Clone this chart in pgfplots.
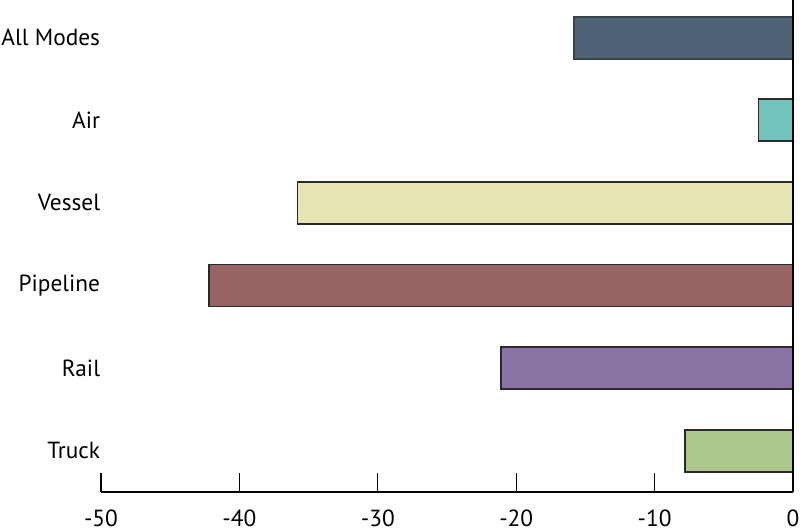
\documentclass[border=0pt]{standalone}
\usepackage{pgfplots}
\pgfplotsset{compat=1.18}
\usepackage{fontspec}
\setmainfont{PT Sans}

\definecolor{cAll}{HTML}{4E6375}
\definecolor{cAir}{HTML}{72C2BD}
\definecolor{cVessel}{HTML}{E6E4B5}
\definecolor{cPipe}{HTML}{966464}
\definecolor{cRail}{HTML}{8A74A6}
\definecolor{cTruck}{HTML}{AEC78F}
\definecolor{edge}{HTML}{2A2A2A}

\begin{document}
\begin{tikzpicture}
\path[use as bounding box, clip] (0,0) rectangle (600pt,399pt);
\begin{axis}[
    at={(75.75pt,30pt)}, anchor=south west,
    scale only axis,
    width=519pt, height=371.7pt,
    xbar, bar width=0.51, bar shift=0pt,
    xmin=-50, xmax=0,
    ymin=-0.5, ymax=5.5,
    axis x line=bottom, axis y line=left,
    x axis line style={-, line width=1.9pt},
    y axis line style={draw=none},
    xtick={-50,-40,-30,-20,-10,0},
    xticklabels={-50,-40,-30,-20,-10,0},
    xtick align=inside,
    major x tick style={line width=0.8pt, black},
    major tick length=14pt,
    ytick={0,1,2,3,4,5},
    yticklabels={Truck,Rail,Pipeline,Vessel,Air,All Modes},
    major y tick style={draw=none},
    tick label style={font=\fontsize{17.5}{20}\selectfont},
    yticklabel style={inner sep=0pt, xshift=6.5pt},
    xticklabel style={yshift=-10pt},
    clip=false,
]
\addplot[fill=cTruck, draw=edge, line width=1.3pt] coordinates {(-7.8,0)};
\addplot[fill=cRail, draw=edge, line width=1.3pt] coordinates {(-21.1,1)};
\addplot[fill=cPipe, draw=edge, line width=1.3pt] coordinates {(-42.2,2)};
\addplot[fill=cVessel, draw=edge, line width=1.3pt] coordinates {(-35.8,3)};
\addplot[fill=cAir, draw=edge, line width=1.3pt] coordinates {(-2.5,4)};
\addplot[fill=cAll, draw=cAll!70!black, line width=1.3pt] coordinates {(-15.8,5)};
\draw[black, line width=2.2pt] (axis cs:0,-0.5) -- (axis cs:0,5.7);
\end{axis}
\end{tikzpicture}
\end{document}
